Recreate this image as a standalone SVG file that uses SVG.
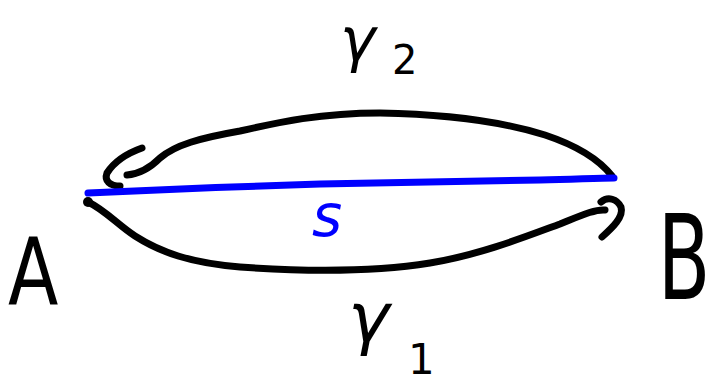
<svg xmlns="http://www.w3.org/2000/svg" width="713" height="384" viewBox="0 0 713 384">
<style>
.ink{fill:none;stroke:#000;stroke-width:7;stroke-linecap:round;stroke-linejoin:round}
.blue{fill:none;stroke:#0000ff;stroke-width:7;stroke-linecap:round;stroke-linejoin:round}
.lbl{font-family:"DejaVu Sans","Liberation Sans",sans-serif;fill:#000}
.sl{font-family:"DejaVu Sans","Liberation Sans",sans-serif;fill:#0000ff}
</style>
<rect width="713" height="384" fill="#fff"/>
<g id="A">
<circle cx="88" cy="202" r="5" fill="#000"/>
<text class="lbl" x="10" y="304" font-size="92" transform="scale(0.8,1)">A</text>
</g>
<g id="B">
<text class="lbl" x="1012" y="299" font-size="118" transform="scale(0.65,1)">B</text>
</g>
<g id="connectors">
<path class="ink" d="M127,175 C140,174 150,168 160,158 C175,145 200,138 240,131 C280,122 320,113 380,113 C440,114 500,121 545,135 C575,145 598,158 612,176"/>
<path class="ink" d="M142,148 C128,153 114,162 107,173 C104,181 110,186 120,186"/>
<path class="ink" d="M88,202 C105,210 118,225 135,236 C160,252 190,263 240,267 C310,272 380,271 430,263 C480,255 530,235 560,224 C580,216 595,209 605,210"/>
<path class="ink" d="M601,202 C608,196 617,199 621,207 C624,217 612,228 602,237"/>
<path class="blue" d="M88,193 C150,190 250,186 320,184 C400,183 470,181 540,180 C580,179 600,178 614,178"/>
</g>
<g id="labels">
<text class="lbl" x="340" y="60" font-size="60" font-style="italic">γ</text>
<text class="lbl" x="392" y="74" font-size="40">2</text>
<text class="lbl" x="348" y="342" font-size="70" font-style="italic">γ</text>
<text class="lbl" x="408" y="374" font-size="42">1</text>
<text class="sl" x="312" y="236" font-size="58" font-style="italic">s</text>
</g>
</svg>
